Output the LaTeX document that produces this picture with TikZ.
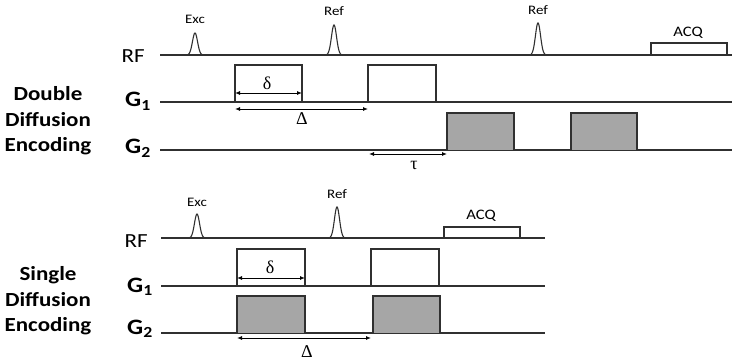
\documentclass[tikz,border=0pt]{standalone}
\usepackage{fontspec}
\setmainfont{Carlito}[FakeStretch=1.15]
\newfontfamily\greekfont{Liberation Serif}
\usetikzlibrary{arrows.meta}

\definecolor{linegray}{HTML}{303030}
\definecolor{gradfill}{HTML}{A6A6A6}

\tikzset{
    axisline/.style={line width=1.2pt, draw=linegray},
    gradbox/.style={line width=1.4pt, draw=linegray},
    rfpulse/.style={line width=1.1pt, draw=linegray},
    spanarrow/.style={{Latex[length=5pt,width=4pt]}-{Latex[length=5pt,width=4pt]}, line width=0.9pt},
    chanlabel/.style={anchor=base east, inner sep=0pt, font=\fontsize{20}{20}\selectfont},
    gradlabel/.style={anchor=base east, inner sep=0pt, font=\fontsize{22}{22}\selectfont\bfseries},
    pulselabel/.style={inner sep=0pt, font=\fontsize{13}{13}\selectfont},
    acqlabel/.style={inner sep=0pt, font=\fontsize{14.5}{14.5}\selectfont},
    greeklabel/.style={inner sep=0pt, font=\fontsize{18}{18}\greekfont},
    seqname/.style={align=center, inner sep=0pt, font=\fontsize{20}{25.5}\selectfont\bfseries},
}

\begin{document}
\begin{tikzpicture}[x=1pt,y=-1pt]

    \useasboundingbox (0,0) rectangle (735,363);

    % Sequence names
    \node[seqname] (dde) at (48,121) {Double\\Diffusion\\Encoding};
    \node[seqname] (sde) at (48,301) {Single\\Diffusion\\Encoding};

    % Channel labels
    \node[chanlabel] (rfA) at (145,63) {RF};
    \node[gradlabel] (gA1) at (151,107) {G\textsubscript{1}};
    \node[gradlabel] (gA2) at (151,154) {G\textsubscript{2}};
    \node[chanlabel] (rfB) at (148,247) {RF};
    \node[gradlabel] (gB1) at (153,292) {G\textsubscript{1}};
    \node[gradlabel] (gB2) at (153,334) {G\textsubscript{2}};

    % Base lines
    \foreach \ly in {55,102,150}
        \draw[axisline] (160,\ly) -- (732,\ly);
    \foreach \ly in {238,286,333}
        \draw[axisline] (161,\ly) -- (545,\ly);

    % RF pulses
    \foreach \px/\py/\ph in {195/55/22, 334/55/30, 538/55/32, 197/238/24, 337/238/31}
        \draw[rfpulse] plot[domain=-7:7,samples=41,smooth,variable=\t]
            ({\px+\t},{\py-\ph*exp(-(\t/3.6)*(\t/3.6))});

    \node[pulselabel] (excA) at (195,19) {Exc};
    \node[pulselabel] (refA1) at (334,11) {Ref};
    \node[pulselabel] (refA2) at (538,10) {Ref};
    \node[pulselabel] (excB) at (197,202) {Exc};
    \node[pulselabel] (refB) at (337,194) {Ref};

    % Acquisition windows
    \draw[gradbox] (651,55) |- (727,43) -- (727,55);
    \node[acqlabel] (acqA) at (688,33) {ACQ};
    \draw[gradbox] (444,238) |- (520,227) -- (520,238);
    \node[acqlabel] (acqB) at (481,216) {ACQ};

    % Gradient lobes, double encoding
    \draw[gradbox] (235,102) |- (302,65) -- (302,102);
    \draw[gradbox] (368,102) |- (436,65) -- (436,102);
    \draw[gradbox, fill=gradfill] (447,150) |- (514,113) -- (514,150);
    \draw[gradbox, fill=gradfill] (571,150) |- (637,113) -- (637,150);

    % Gradient lobes, single encoding
    \draw[gradbox] (237,286) |- (305,249) -- (305,286);
    \draw[gradbox] (371,286) |- (439,249) -- (439,286);
    \draw[gradbox, fill=gradfill] (237,333) |- (305,296) -- (305,333);
    \draw[gradbox, fill=gradfill] (373,333) |- (440,296) -- (440,333);

    % Timing arrows
    \coordinate (dltA0) at (235,93);
    \coordinate (dltA1) at (302,93);
    \coordinate (DltA0) at (235,109);
    \coordinate (DltA1) at (368,109);
    \coordinate (tauA0) at (369,154);
    \coordinate (tauA1) at (447,154);
    \coordinate (dltB0) at (237,278);
    \coordinate (dltB1) at (305,278);
    \coordinate (DltB0) at (237,338);
    \coordinate (DltB1) at (371,338);

    \draw[spanarrow] (dltA0) -- (dltA1);
    \draw[spanarrow] (DltA0) -- (DltA1);
    \draw[spanarrow] (tauA0) -- (tauA1);
    \draw[spanarrow] (dltB0) -- (dltB1);
    \draw[spanarrow] (DltB0) -- (DltB1);

    \node[greeklabel] (dltAlab) at (267,83) {δ};
    \node[greeklabel] (DltAlab) at (302,119) {Δ};
    \node[greeklabel] (tauAlab) at (414,165) {τ};
    \node[greeklabel] (dltBlab) at (270,267) {δ};
    \node[greeklabel] (DltBlab) at (307,352) {Δ};

\end{tikzpicture}
\end{document}
